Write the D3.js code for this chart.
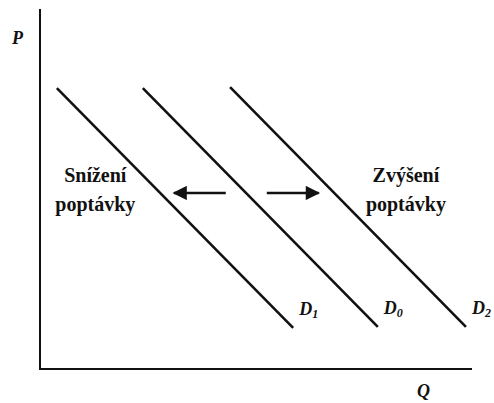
<!DOCTYPE html>
<html>
<head>
<meta charset="utf-8">
<script src="https://cdn.jsdelivr.net/npm/d3@7"></script>
<style>
  body { margin: 0; background: #fff; }
</style>
</head>
<body>
<div id="canvas"></div>
<script>
"use strict"
let svgWidth = 494;
let svgHeight = 403;

// demand curves (Q, P) end points in chart units 0-10
let curveNames = ["D1", "D0", "D2"];
let curveSubs = ["1", "0", "2"];
let curveStartQ = [0.39, 2.38, 4.4];
let curveStartP = [7.8, 7.8, 7.83];
let curveEndQ = [5.86, 7.82, 9.86];
let curveEndP = [1.14, 1.17, 1.17];

// shift arrows (Q from, Q to, P level)
let arrowFromQ = [4.3, 5.25];
let arrowToQ = [3.1, 6.45];
let arrowP = [4.89, 4.89];

let shiftLabels = [["Snížení", "poptávky"], ["Zvýšení", "poptávky"]];
let shiftLabelQ = [1.28, 8.47];

let serif = "Liberation Serif";

let svg = d3.select("#canvas")
    .append("svg")
    .attr("width", svgWidth)
    .attr("height", svgHeight);

let xScale = d3.scaleLinear()
    .domain([0, 10])
    .range([40, 472]);

let yScale = d3.scaleLinear()
    .domain([0, 10])
    .range([369, 9]);

svg.append("defs").append("marker")
    .attr("id", "head")
    .attr("viewBox", "0 0 10 10")
    .attr("refX", 9)
    .attr("refY", 5)
    .attr("markerWidth", 6)
    .attr("markerHeight", 5.5)
    .attr("markerUnits", "strokeWidth")
    .attr("orient", "auto")
    .append("path")
    .attr("d", "M0,0 L10,5 L0,10 Z")
    .attr("fill", "#111");

// axes
svg.append("line")
    .attr("x1", xScale(0))
    .attr("y1", yScale(10))
    .attr("x2", xScale(0))
    .attr("y2", yScale(0))
    .attr("stroke", "#111")
    .attr("stroke-width", 2);

svg.append("line")
    .attr("x1", xScale(0) - 1)
    .attr("y1", yScale(0))
    .attr("x2", xScale(10))
    .attr("y2", yScale(0))
    .attr("stroke", "#111")
    .attr("stroke-width", 2);

svg.append("text")
    .attr("x", 12)
    .attr("y", 44)
    .attr("font-family", serif)
    .attr("font-weight", "bold")
    .attr("font-style", "italic")
    .attr("font-size", 18)
    .attr("fill", "#111")
    .text("P");

svg.append("text")
    .attr("x", 417)
    .attr("y", 397)
    .attr("font-family", serif)
    .attr("font-weight", "bold")
    .attr("font-style", "italic")
    .attr("font-size", 18)
    .attr("fill", "#111")
    .text("Q");

// demand curves
for (let i = 0; i < curveNames.length; i++) {
    svg.append("line")
        .attr("x1", xScale(curveStartQ[i]))
        .attr("y1", yScale(curveStartP[i]))
        .attr("x2", xScale(curveEndQ[i]))
        .attr("y2", yScale(curveEndP[i]))
        .attr("stroke", "#111")
        .attr("stroke-width", 2.6);

    let label = svg.append("text")
        .attr("x", xScale(curveEndQ[i]) + 6)
        .attr("y", yScale(curveEndP[i]) - 13)
        .attr("font-family", serif)
        .attr("font-weight", "bold")
        .attr("font-style", "italic")
        .attr("font-size", 18)
        .attr("fill", "#111");
    label.append("tspan").text("D");
    label.append("tspan")
        .attr("font-size", 12)
        .attr("dy", 3)
        .text(curveSubs[i]);
}

// shift arrows
for (let i = 0; i < arrowFromQ.length; i++) {
    svg.append("line")
        .attr("x1", xScale(arrowFromQ[i]))
        .attr("y1", yScale(arrowP[i]))
        .attr("x2", xScale(arrowToQ[i]))
        .attr("y2", yScale(arrowP[i]))
        .attr("stroke", "#111")
        .attr("stroke-width", 2.6)
        .attr("marker-end", "url(#head)");
}

// shift labels
for (let i = 0; i < shiftLabels.length; i++) {
    for (let j = 0; j < shiftLabels[i].length; j++) {
        svg.append("text")
            .attr("x", xScale(shiftLabelQ[i]))
            .attr("y", 182 + j * 29)
            .attr("text-anchor", "middle")
            .attr("font-family", serif)
            .attr("font-weight", "bold")
            .attr("font-size", 20)
            .attr("fill", "#111")
            .text(shiftLabels[i][j]);
    }
}
</script>
</body>
</html>
